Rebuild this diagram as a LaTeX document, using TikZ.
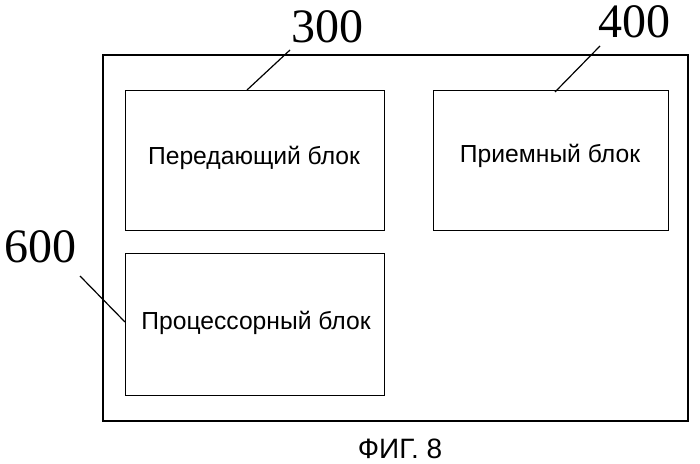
\documentclass[tikz,border=0pt]{standalone}
\usepackage{fontspec}
\setmainfont{Liberation Serif}
\setsansfont{Liberation Sans}
\begin{document}
\begin{tikzpicture}[x=0.75pt,y=-0.75pt,
    blk/.style={draw,line width=0.9pt,rectangle,anchor=north west},
    txt/.style={font=\sffamily\fontsize{18.5}{22}\selectfont},
    num/.style={font=\fontsize{36}{40}\selectfont},
    lead/.style={line width=0.9pt}]
  \useasboundingbox (0,0) rectangle (700,464);
  \draw[line width=0.9pt] (103,55) rectangle (688,421);
  \node[blk,minimum width=194.25pt,minimum height=105pt] (tx) at (125,90) {};
  \node[txt] at (254,158) {Передающий блок};
  \node[blk,minimum width=176.25pt,minimum height=105pt] (rx) at (433,90) {};
  \node[txt] at (550,156) {Приемный блок};
  \node[blk,minimum width=194.25pt,minimum height=106.5pt] (cpu) at (125,253) {};
  \node[txt] at (256,323) {Процессорный блок};
  \node[num] (n300) at (327,27) {300};
  \node[num] (n400) at (634,22) {400};
  \node[num] (n600) at (40,247) {600};
  \coordinate (a300) at (247,90);
  \coordinate (a400) at (555,92);
  \coordinate (a600) at (125,322);
  \draw[lead] (a300) -- (290,50);
  \draw[lead] (a400) -- (600,46);
  \draw[lead] (a600) -- (80,276);
  \node[font=\sffamily\fontsize{21}{24}\selectfont] (cap) at (400,449) {ФИГ. 8};
\end{tikzpicture}
\end{document}
